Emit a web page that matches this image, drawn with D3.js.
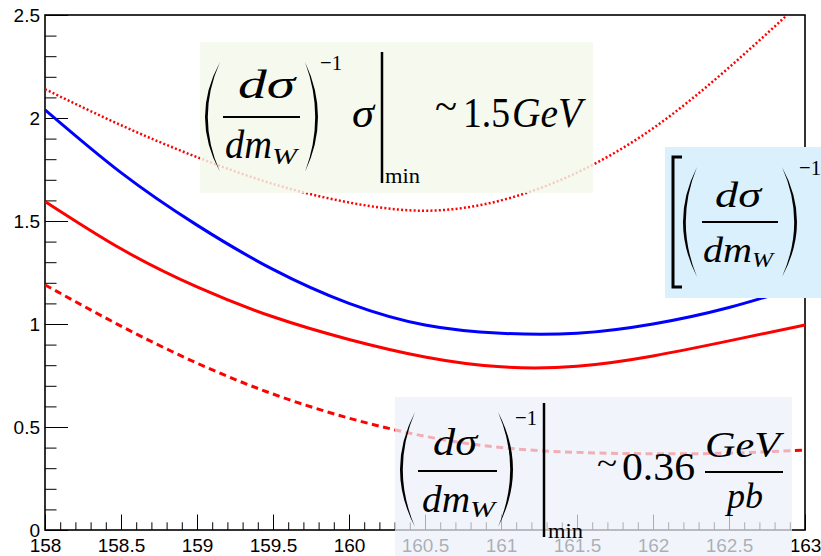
<!DOCTYPE html>
<html>
<head>
<meta charset="utf-8">
<script src="https://cdn.jsdelivr.net/npm/d3@7"></script>
<style>
  body { margin: 0; background: #fff; }
  svg { display: block; }
  .axis text { font-family: "Liberation Sans", Arial, sans-serif; font-size: 19px; fill: #000; }
  .axis line { stroke: #000; stroke-width: 1; }
  .axis path { display: none; }
  .mt { font-family: "Liberation Serif", "Times New Roman", serif; fill: #000; }
</style>
</head>
<body>
<script>
// W mass (GeV) sample points along the scan
const massValues = [158, 158.5, 159, 159.5, 160, 160.5, 161, 161.5, 162, 162.5, 163];

// curves
const blueCurve   = [2.04, 1.735, 1.48, 1.265, 1.10, 0.995, 0.955, 0.955, 1.0, 1.08, 1.19];
const redSolid    = [1.595, 1.365, 1.18, 1.035, 0.925, 0.84, 0.792, 0.795, 0.845, 0.918, 0.995];
const redDashed   = [1.19, 0.99, 0.81, 0.66, 0.543, 0.455, 0.40, 0.377, 0.37, 0.373, 0.388];
const redDotted   = [2.14, 1.965, 1.81, 1.68, 1.59, 1.55, 1.60, 1.735, 1.95, 2.245, 2.58];

const xMajor = [158, 158.5, 159, 159.5, 160, 160.5, 161, 161.5, 162, 162.5, 163];
const yMajor = [0, 0.5, 1, 1.5, 2, 2.5];

const W = 821, H = 556;
const margin = {top: 15, right: 16, bottom: 26, left: 45};

const svg = d3.select("body").append("svg")
    .attr("width", W)
    .attr("height", H);

const x = d3.scaleLinear().domain([158, 163]).range([margin.left, W - margin.right]);
const y = d3.scaleLinear().domain([0, 2.5]).range([H - margin.bottom, margin.top]);

svg.append("clipPath").attr("id", "plotClip")
  .append("rect")
    .attr("x", x(158)).attr("y", y(2.5))
    .attr("width", x(163) - x(158)).attr("height", y(0) - y(2.5));

// axes, ROOT style: ticks pointing inwards
const yMinorTicks = d3.range(0, 26).map(i => i / 10);
const xMinorTicks = d3.range(1580, 1631).map(i => i / 10);

svg.append("g").attr("class", "axis")
    .attr("transform", `translate(${x(158)},0)`)
    .call(d3.axisLeft(y).tickValues(yMinorTicks).tickSize(-11.5).tickFormat(""));
svg.append("g").attr("class", "axis")
    .attr("transform", `translate(${x(158)},0)`)
    .call(d3.axisLeft(y).tickValues(yMajor).tickSize(-23).tickPadding(5).tickFormat(d3.format("")));

svg.append("g").attr("class", "axis")
    .attr("transform", `translate(0,${y(0)})`)
    .call(d3.axisBottom(x).tickValues(xMinorTicks).tickSize(-7.7).tickFormat(""));
svg.append("g").attr("class", "axis")
    .attr("transform", `translate(0,${y(0)})`)
    .call(d3.axisBottom(x).tickValues(xMajor).tickSize(-15.5).tickPadding(9).tickFormat(d3.format("")));

// frame
svg.append("rect")
    .attr("x", x(158)).attr("y", y(2.5))
    .attr("width", x(163) - x(158)).attr("height", y(0) - y(2.5))
    .attr("fill", "none").attr("stroke", "#000").attr("stroke-width", 1.6);

// curves
const line = vals => d3.line()
    .x((d, i) => x(massValues[i]))
    .y(d => y(d))
    .curve(d3.curveNatural)(vals);

const curves = svg.append("g").attr("clip-path", "url(#plotClip)");
curves.append("path").attr("d", line(redDotted))
    .attr("fill", "none").attr("stroke", "#ff0000").attr("stroke-width", 2.5)
    .attr("stroke-dasharray", "2,2.2");
curves.append("path").attr("d", line(redDashed))
    .attr("fill", "none").attr("stroke", "#ff0000").attr("stroke-width", 3)
    .attr("stroke-dasharray", "7,4.5");
curves.append("path").attr("d", line(redSolid))
    .attr("fill", "none").attr("stroke", "#ff0000").attr("stroke-width", 3);
curves.append("path").attr("d", line(blueCurve))
    .attr("fill", "none").attr("stroke", "#0000ff").attr("stroke-width", 3);

// ---- formula boxes (pasted images in the original) ----
function txt(g, str, x0, x1, base, size, italic) {
    g.append("text").attr("class", "mt")
        .attr("x", x0).attr("y", base)
        .attr("font-size", size)
        .attr("font-style", italic ? "italic" : "normal")
        .attr("textLength", x1 - x0)
        .attr("lengthAdjust", "spacingAndGlyphs")
        .text(str);
}
function paren(g, xl, xr, y0, y1, open) {
    const ym = (y0 + y1) / 2, t = 2.8;
    let p;
    if (open) {
        p = `M${xr},${y0} Q${2 * xl - xr},${ym} ${xr},${y1} Q${2 * (xl + t) - xr},${ym} ${xr},${y0} Z`;
    } else {
        p = `M${xl},${y0} Q${2 * xr - xl},${ym} ${xl},${y1} Q${2 * (xr - t) - xl},${ym} ${xl},${y0} Z`;
    }
    g.append("path").attr("d", p).attr("fill", "#000");
}
function hbar(g, x0, x1, yy, w) {
    g.append("line").attr("x1", x0).attr("x2", x1).attr("y1", yy).attr("y2", yy)
        .attr("stroke", "#000").attr("stroke-width", w || 2);
}
function vbar(g, xx, y0, y1) {
    g.append("line").attr("x1", xx).attr("x2", xx).attr("y1", y0).attr("y2", y1)
        .attr("stroke", "#000").attr("stroke-width", 2.5);
}

// top (green) box
const g1 = svg.append("g");
g1.append("rect").attr("x", 200).attr("y", 42).attr("width", 393).attr("height", 151)
    .attr("fill", "#f4f8ea").attr("fill-opacity", 0.82);
paren(g1, 205, 220, 62, 172, true);
txt(g1, "dσ", 238, 295, 98, 40, true);
hbar(g1, 223, 300, 117);
txt(g1, "dm", 225, 272, 158, 40, true);
txt(g1, "W", 272, 297, 164, 24, true);
paren(g1, 305, 318, 62, 172, false);
txt(g1, "−1", 320, 342, 70, 22, false);
txt(g1, "σ", 352, 374, 127, 42, true);
vbar(g1, 382, 52, 183);
txt(g1, "min", 385, 420, 183, 22, false);
txt(g1, "~", 435, 457, 120, 40, false);
txt(g1, "1.5", 463, 510, 127, 42, false);
txt(g1, "GeV", 512, 582, 127, 42, true);

// right (blue) box
const g2 = svg.append("g");
g2.append("rect").attr("x", 665).attr("y", 147).attr("width", 156).attr("height", 151)
    .attr("fill", "#daf0fd");
g2.append("path").attr("d", "M682,157 L673,157 L673,287 L682,287")
    .attr("fill", "none").attr("stroke", "#000").attr("stroke-width", 3);
paren(g2, 683, 697, 167, 277, true);
txt(g2, "dσ", 715, 761, 207, 35, true);
hbar(g2, 702, 778, 222);
txt(g2, "dm", 703, 752, 262, 35, true);
txt(g2, "W", 752, 773, 267, 21, true);
paren(g2, 782, 797, 167, 277, false);
txt(g2, "−1", 799, 821, 175, 22, false);

// bottom (grey-blue) box
const g3 = svg.append("g");
g3.append("rect").attr("x", 395).attr("y", 397).attr("width", 397).attr("height", 159)
    .attr("fill", "#ecf1f9").attr("fill-opacity", 0.72);
paren(g3, 400, 415, 412, 527, true);
txt(g3, "dσ", 433, 477, 455, 37, true);
hbar(g3, 418, 497, 471);
txt(g3, "dm", 422, 470, 512, 37, true);
txt(g3, "W", 470, 495, 517, 23, true);
paren(g3, 498, 513, 412, 527, false);
txt(g3, "−1", 515, 537, 425, 22, false);
vbar(g3, 544, 403, 537);
txt(g3, "min", 548, 583, 538, 22, false);
txt(g3, "~", 597, 617, 474, 32, false);
txt(g3, "0.36", 622, 695, 480, 40, false);
txt(g3, "GeV", 705, 780, 457, 36, true);
hbar(g3, 705, 783, 472);
txt(g3, "pb", 727, 763, 508, 36, true);
</script>
</body>
</html>
